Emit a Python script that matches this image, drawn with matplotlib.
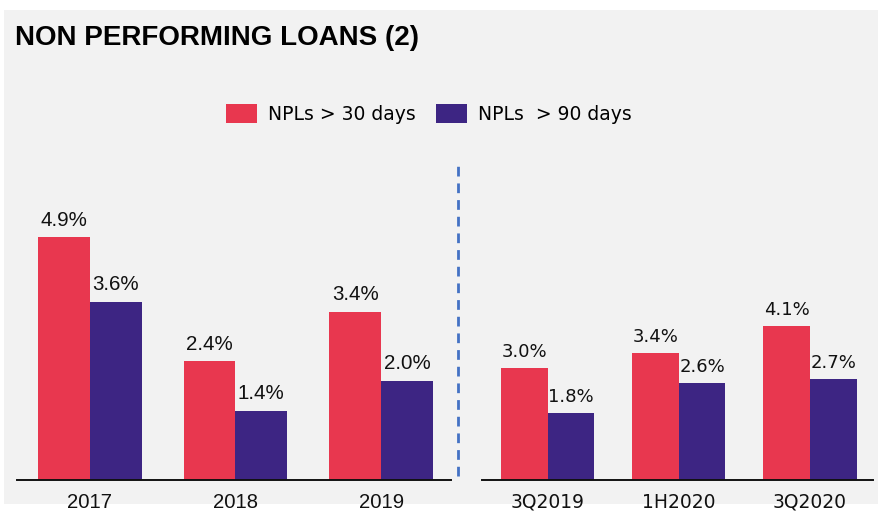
import matplotlib
matplotlib.use("Agg")
import matplotlib.pyplot as plt
from matplotlib.patches import Rectangle
import numpy as np

title = "NON PERFORMING LOANS (2)"
series_names = ["NPLs > 30 days", "NPLs  > 90 days"]
left_cats = ["2017", "2018", "2019"]
left_30 = [4.9, 2.4, 3.4]
left_90 = [3.6, 1.4, 2.0]
right_cats = ["3Q2019", "1H2020", "3Q2020"]
right_30 = [3.0, 3.4, 4.1]
right_90 = [1.8, 2.6, 2.7]

RED = "#E8374F"
PURPLE = "#3D2583"
BG = "#F2F2F2"

W, H = 881, 512
fig = plt.figure(figsize=(W / 100, H / 100), dpi=100)
fig.patch.set_facecolor("white")
fig.patches.append(Rectangle((4 / W, 1 - 504 / H), 874 / W, 494 / H,
                             transform=fig.transFigure, facecolor=BG,
                             edgecolor="none", zorder=-10))

bottom = 1 - 480 / H
top = 1 - 150 / H
axL = fig.add_axes([17 / W, bottom, (451 - 17) / W, top - bottom])
axR = fig.add_axes([482 / W, bottom, (873 - 482) / W, top - bottom])
axL.set_zorder(2)
axR.set_zorder(2)

ARIAL = ["Liberation Sans", "DejaVu Sans"]
GOTHIC = ["DejaVu Sans"]

bw = 0.355

def draw(ax, cats, v30, v90, ymax, lab_family, lab_size, off, tick_family, tick_size, pad):
    x = np.arange(len(cats))
    b1 = ax.bar(x - bw / 2, v30, bw, color=RED, label=series_names[0])
    b2 = ax.bar(x + bw / 2, v90, bw, color=PURPLE, label=series_names[1])
    for bars, vals in ((b1, v30), (b2, v90)):
        for r, v in zip(bars, vals):
            ax.annotate(f"{v:.1f}%", (r.get_x() + r.get_width() / 2, v),
                        xytext=(0, off), textcoords="offset points",
                        ha="center", va="bottom", color="#111111",
                        family=lab_family, size=lab_size)
    ax.set_xlim(-0.5, 2.48)
    ax.set_ylim(0, ymax)
    ax.set_facecolor("none")
    for s in ("top", "left", "right"):
        ax.spines[s].set_visible(False)
    ax.spines["bottom"].set_color("#111111")
    ax.spines["bottom"].set_linewidth(1.4)
    ax.set_yticks([])
    ax.set_xticks(x)
    ax.set_xticklabels(cats, family=tick_family, fontsize=tick_size, color="#111111")
    ax.tick_params(axis="x", length=0, pad=pad)
    return b1, b2

b1, b2 = draw(axL, left_cats, left_30, left_90, 330 / 49.5,
              ARIAL, 14.8, 5.5, ARIAL, 14.6, 9)
draw(axR, right_cats, right_30, right_90, 330 / 37.5,
     GOTHIC, 13, 5, GOTHIC, 13.5, 9)

# dashed separator
fig.add_artist(plt.Line2D([458 / W, 458 / W], [1 - 476 / H, 1 - 166 / H],
                          transform=fig.transFigure, color="#4472C4",
                          linewidth=2, linestyle=(0, (3.5, 2.5))))

fig.text(15 / W, 1 - 38 / H, title, family=ARIAL,
         fontsize=20, fontweight="bold", ha="left", va="center", color="black")

fig.legend(handles=[b1, b2], labels=series_names, loc="center",
           bbox_to_anchor=(429 / W, 1 - 114 / H), ncol=2, frameon=False,
           prop=dict(family=GOTHIC, size=13.5), handlelength=1.65,
           handleheight=1.2, handletextpad=0.6, columnspacing=1.1)

fig.savefig("out.png", dpi=100, facecolor="white")
